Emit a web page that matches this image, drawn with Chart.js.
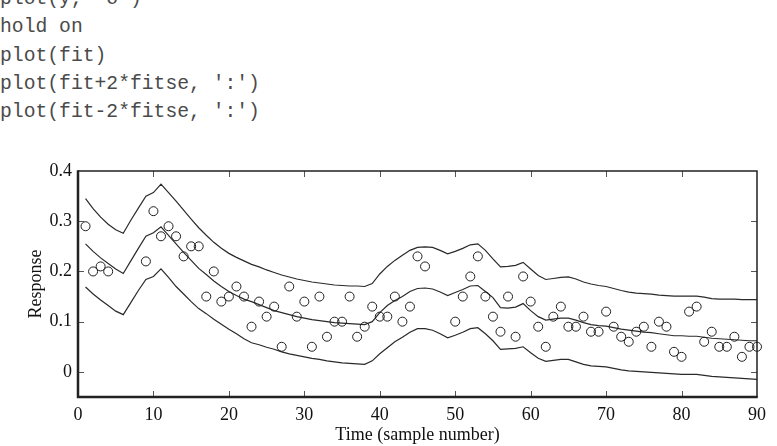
<!DOCTYPE html>
<html>
<head>
<meta charset="utf-8">
<script src="https://cdn.jsdelivr.net/npm/chart.js@4"></script>
<style>
  html, body { margin: 0; padding: 0; background: #fff; overflow: hidden; }
  #wrap { position: relative; width: 777px; height: 446px; }
  #code {
    position: absolute; left: 0; top: -15px; margin: 0;
    font-family: "Liberation Mono", "DejaVu Sans Mono", monospace;
    font-size: 19.7px; line-height: 28.3px; color: #4a4a4a;
  }
  #chart { position: absolute; left: 0; top: 0; }
</style>
</head>
<body>
<div id="wrap">
<pre id="code">plot(y, 'o')
hold on
plot(fit)
plot(fit+2*fitse, ':')
plot(fit-2*fitse, ':')</pre>
<canvas id="chart" width="777" height="446"></canvas>
</div>
<script>
// sample number (x axis)
const sampleNo = [
  1, 2, 3, 4, 5, 6, 7, 8, 9, 10, 11, 12, 13, 14, 15, 16, 17, 18, 19, 20,
  21, 22, 23, 24, 25, 26, 27, 28, 29, 30, 31, 32, 33, 34, 35, 36, 37, 38, 39, 40,
  41, 42, 43, 44, 45, 46, 47, 48, 49, 50, 51, 52, 53, 54, 55, 56, 57, 58, 59, 60,
  61, 62, 63, 64, 65, 66, 67, 68, 69, 70, 71, 72, 73, 74, 75, 76, 77, 78, 79, 80,
  81, 82, 83, 84, 85, 86, 87, 88, 89, 90
];

// measured response y (null = missing sample)
const response = [
  0.29, 0.20, 0.21, 0.20, null, null, null, null, 0.22, 0.32,
  0.27, 0.29, 0.27, 0.23, 0.25, 0.25, 0.15, 0.20, 0.14, 0.15,
  0.17, 0.15, 0.09, 0.14, 0.11, 0.13, 0.05, 0.17, 0.11, 0.14,
  0.05, 0.15, 0.07, 0.10, 0.10, 0.15, 0.07, 0.09, 0.13, 0.11,
  0.11, 0.15, 0.10, 0.13, 0.23, 0.21, null, null, null, 0.10,
  0.15, 0.19, 0.23, 0.15, 0.11, 0.08, 0.15, 0.07, 0.19, 0.14,
  0.09, 0.05, 0.11, 0.13, 0.09, 0.09, 0.11, 0.08, 0.08, 0.12,
  0.09, 0.07, 0.06, 0.08, 0.09, 0.05, 0.10, 0.09, 0.04, 0.03,
  0.12, 0.13, 0.06, 0.08, 0.05, 0.05, 0.07, 0.03, 0.05, 0.05
];

// fitted curve
const fit = [
  0.255, 0.240, 0.227, 0.216, 0.205, 0.196, 0.221, 0.246, 0.270, 0.277,
  0.289, 0.272, 0.255, 0.238, 0.222, 0.206, 0.194, 0.181, 0.170, 0.160,
  0.152, 0.145, 0.140, 0.134, 0.128, 0.122, 0.118, 0.114, 0.110, 0.107,
  0.104, 0.102, 0.100, 0.098, 0.097, 0.096, 0.095, 0.094, 0.100, 0.118,
  0.132, 0.142, 0.150, 0.160, 0.166, 0.167, 0.165, 0.159, 0.152, 0.158,
  0.164, 0.171, 0.172, 0.160, 0.148, 0.128, 0.127, 0.129, 0.136, 0.122,
  0.110, 0.103, 0.105, 0.107, 0.107, 0.103, 0.098, 0.094, 0.092, 0.091,
  0.088, 0.085, 0.083, 0.081, 0.079, 0.078, 0.076, 0.074, 0.072, 0.072,
  0.071, 0.071, 0.069, 0.067, 0.066, 0.065, 0.064, 0.063, 0.062, 0.062
];

// fit + 2*fitse
const upperBand = [
  0.345, 0.325, 0.308, 0.294, 0.283, 0.276, 0.302, 0.326, 0.350, 0.357,
  0.374, 0.357, 0.340, 0.322, 0.304, 0.287, 0.272, 0.258, 0.246, 0.236,
  0.228, 0.221, 0.214, 0.209, 0.203, 0.198, 0.193, 0.189, 0.185, 0.182,
  0.179, 0.177, 0.175, 0.173, 0.172, 0.171, 0.171, 0.170, 0.176, 0.195,
  0.210, 0.222, 0.232, 0.242, 0.248, 0.249, 0.248, 0.242, 0.235, 0.240,
  0.246, 0.253, 0.255, 0.242, 0.225, 0.209, 0.210, 0.212, 0.218, 0.205,
  0.192, 0.184, 0.186, 0.188, 0.189, 0.185, 0.179, 0.175, 0.172, 0.170,
  0.166, 0.162, 0.159, 0.157, 0.156, 0.155, 0.153, 0.152, 0.151, 0.151,
  0.151, 0.151, 0.149, 0.146, 0.145, 0.145, 0.145, 0.144, 0.144, 0.144
];

// fit - 2*fitse
const lowerBand = [
  0.169, 0.155, 0.143, 0.132, 0.121, 0.114, 0.138, 0.162, 0.184, 0.190,
  0.205, 0.188, 0.170, 0.155, 0.140, 0.126, 0.116, 0.105, 0.095, 0.085,
  0.076, 0.066, 0.058, 0.054, 0.049, 0.045, 0.040, 0.036, 0.033, 0.030,
  0.027, 0.025, 0.022, 0.020, 0.018, 0.017, 0.016, 0.015, 0.022, 0.036,
  0.048, 0.060, 0.069, 0.079, 0.086, 0.086, 0.083, 0.076, 0.068, 0.073,
  0.079, 0.086, 0.088, 0.076, 0.062, 0.045, 0.046, 0.047, 0.050, 0.038,
  0.027, 0.021, 0.023, 0.025, 0.025, 0.020, 0.015, 0.012, 0.011, 0.010,
  0.007, 0.004, 0.002, 0.001, 0.000, -0.001, -0.002, -0.003, -0.004, -0.005,
  -0.005, -0.005, -0.007, -0.009, -0.010, -0.011, -0.012, -0.013, -0.014, -0.015
];

const xTicks = [0, 10, 20, 30, 40, 50, 60, 70, 80, 90];
const yTicks = [0, 0.1, 0.2, 0.3, 0.4];

function toXY(values) {
  const pts = [];
  values.forEach((v, i) => {
    if (v !== null) pts.push({ x: sampleNo[i], y: v });
  });
  return pts;
}

const serif = "'Liberation Serif', 'Times New Roman', serif";

// box with inward ticks, like the matlab axes
const boxAxes = {
  id: "boxAxes",
  afterDatasetsDraw(chart) {
    const { ctx, chartArea: a, scales: { x, y } } = chart;
    const len = 6;
    ctx.save();
    ctx.strokeStyle = "#555";
    ctx.lineWidth = 1;
    ctx.beginPath();
    xTicks.forEach(v => {
      const px = Math.round(x.getPixelForValue(v)) + 0.5;
      if (v > x.min && v < x.max) {
        ctx.moveTo(px, a.bottom); ctx.lineTo(px, a.bottom - len);
        ctx.moveTo(px, a.top); ctx.lineTo(px, a.top + len);
      }
    });
    yTicks.forEach(v => {
      const py = Math.round(y.getPixelForValue(v)) + 0.5;
      if (v > y.min && v < y.max) {
        ctx.moveTo(a.left, py); ctx.lineTo(a.left + len, py);
        ctx.moveTo(a.right, py); ctx.lineTo(a.right - len, py);
      }
    });
    ctx.stroke();

    ctx.strokeStyle = "#222";
    ctx.lineWidth = 1.5;
    ctx.beginPath();
    ctx.moveTo(a.left, a.top); ctx.lineTo(a.right, a.top); ctx.lineTo(a.right, a.bottom);
    ctx.stroke();
    ctx.lineWidth = 2.5;
    ctx.beginPath();
    ctx.moveTo(a.left, a.top - 0.75); ctx.lineTo(a.left, a.bottom); ctx.lineTo(a.right + 0.75, a.bottom);
    ctx.stroke();
    ctx.restore();
  }
};

const lineStyle = {
  type: "line",
  showLine: true,
  borderColor: "#2a2a2a",
  borderWidth: 1.2,
  pointRadius: 0,
  tension: 0,
  fill: false
};

new Chart(document.getElementById("chart"), {
  type: "scatter",
  data: {
    datasets: [
      {
        label: "y",
        data: toXY(response),
        showLine: false,
        pointStyle: "circle",
        pointRadius: 4.5,
        borderWidth: 1,
        borderColor: "#1e1e1e",
        backgroundColor: "rgba(0,0,0,0)",
        clip: false
      },
      Object.assign({ label: "fit", data: toXY(fit) }, lineStyle),
      Object.assign({ label: "fit+2*fitse", data: toXY(upperBand) }, lineStyle),
      Object.assign({ label: "fit-2*fitse", data: toXY(lowerBand) }, lineStyle)
    ]
  },
  options: {
    responsive: false,
    animation: false,
    layout: { padding: { top: 171, right: 20, bottom: 0, left: 0 } },
    plugins: { legend: { display: false }, tooltip: { enabled: false } },
    scales: {
      x: {
        type: "linear",
        min: 0,
        max: 90,
        afterBuildTicks: s => { s.ticks = xTicks.map(v => ({ value: v })); },
        afterFit: s => { s.height = 49; },
        grid: { display: false, drawTicks: false },
        border: { display: false },
        ticks: { color: "#111", padding: 7, font: { family: serif, size: 18 } },
        title: {
          display: true,
          text: "Time (sample number)",
          color: "#111",
          font: { family: serif, size: 18 },
          padding: { top: 0, bottom: 0 }
        }
      },
      y: {
        type: "linear",
        min: -0.05,
        max: 0.4,
        afterBuildTicks: s => { s.ticks = yTicks.map(v => ({ value: v })); },
        afterFit: s => { s.width = 78; },
        grid: { display: false, drawTicks: false },
        border: { display: false },
        ticks: { color: "#111", padding: 6, font: { family: serif, size: 18 }, callback: v => String(v) },
        title: {
          display: true,
          text: "Response",
          color: "#111",
          font: { family: serif, size: 18 },
          padding: { top: 25, bottom: 0 }
        }
      }
    }
  },
  plugins: [boxAxes]
});
</script>
</body>
</html>
